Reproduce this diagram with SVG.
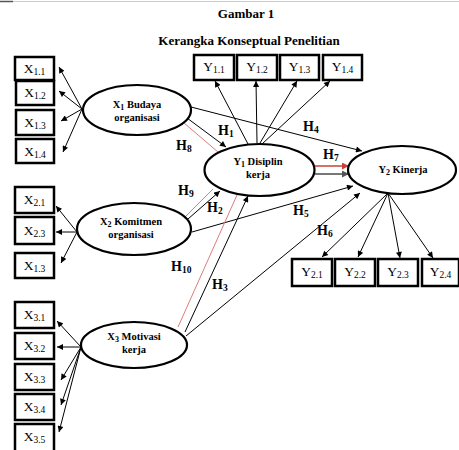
<svg xmlns="http://www.w3.org/2000/svg" width="459" height="450" viewBox="0 0 459 450">
<style>
text{font-family:"Liberation Serif","Times New Roman",serif;fill:#000}
.ttl{font-size:13px;font-weight:bold;text-anchor:middle}
.box rect{fill:#fff;stroke:#000;stroke-width:2.5}
.box text{font-size:13.5px;text-anchor:middle}
.sub{font-size:9.5px}
.ell ellipse{fill:#fff;stroke:#000;stroke-width:2.2}
.ell text{font-size:10.5px;font-weight:bold;text-anchor:middle}
.esub{font-size:8px}
.h{font-size:14px;font-weight:bold}
.hs{font-size:9.5px}
.c line{stroke:#000;stroke-width:1;fill:none}
.c line.a{marker-end:url(#ah)}
.c line.r{stroke:#e07b7b;stroke-width:1}
.c line.ra{stroke:#c9403a;stroke-width:1.6;marker-end:url(#ahr)}
.c line.ga{stroke:#777;stroke-width:2.2;marker-end:url(#ahg)}
</style>
<defs>
<marker id="ah" viewBox="0 0 10 10" refX="10" refY="5" markerWidth="7" markerHeight="6" markerUnits="userSpaceOnUse" orient="auto"><path d="M0,0L10,5L0,10z" fill="#000"/></marker>
<marker id="ahr" viewBox="0 0 10 10" refX="10" refY="5" markerWidth="8" markerHeight="7" markerUnits="userSpaceOnUse" orient="auto"><path d="M0,0L10,5L0,10z" fill="#c9403a"/></marker>
<marker id="ahg" viewBox="0 0 10 10" refX="10" refY="5" markerWidth="8" markerHeight="7" markerUnits="userSpaceOnUse" orient="auto"><path d="M0,0L10,5L0,10z" fill="#555"/></marker>
</defs>
<rect x="0" y="0" width="459" height="450" fill="#fff"/>
<line x1="0" y1="1.5" x2="459" y2="1.5" stroke="#ccc" stroke-width="1"/>
<line x1="0" y1="1.5" x2="13" y2="1.5" stroke="#555" stroke-width="1.5"/>
<text class="ttl" x="246" y="18">Gambar 1</text>
<text class="ttl" x="249" y="45">Kerangka Konseptual Penelitian</text>

<g id="connectors" class="c">
<!-- X1 indicators -->
<line class="a" x1="82" y1="109" x2="59" y2="67"/>
<line class="a" x1="82" y1="109" x2="59" y2="91"/>
<line class="a" x1="82" y1="109" x2="61" y2="121"/>
<line class="a" x1="82" y1="109" x2="63" y2="152"/>
<!-- X2 indicators -->
<line class="a" x1="77" y1="232" x2="56" y2="206"/>
<line class="a" x1="77" y1="232" x2="56" y2="232"/>
<line class="a" x1="77" y1="232" x2="61" y2="263"/>
<!-- X3 indicators -->
<line class="a" x1="81" y1="347" x2="57" y2="321"/>
<line class="a" x1="81" y1="347" x2="57" y2="347"/>
<line class="a" x1="81" y1="347" x2="61" y2="380"/>
<line class="a" x1="81" y1="347" x2="61" y2="405"/>
<line class="a" x1="81" y1="347" x2="59" y2="432"/>
<!-- Y1 indicators -->
<line class="a" x1="248" y1="144" x2="215" y2="81"/>
<line class="a" x1="257" y1="143" x2="256" y2="81"/>
<line class="a" x1="260" y1="143" x2="297" y2="81"/>
<line class="a" x1="262" y1="144" x2="330" y2="81"/>
<!-- Y2 indicators -->
<line class="a" x1="388" y1="193" x2="322" y2="257"/>
<line class="a" x1="388" y1="193" x2="358" y2="257"/>
<line class="a" x1="388" y1="193" x2="400" y2="258"/>
<line class="a" x1="388" y1="193" x2="433" y2="258"/>
<!-- structural paths -->
<line class="a" x1="187" y1="118" x2="226" y2="147"/>
<line class="r" x1="184" y1="123" x2="218" y2="152"/>
<line class="a" x1="191" y1="107" x2="362" y2="151"/>
<line class="a" x1="188" y1="219" x2="220" y2="191"/>
<line class="r" x1="185" y1="217" x2="213" y2="189"/>
<line class="a" x1="192" y1="232" x2="353" y2="186"/>
<line class="a" x1="185" y1="332" x2="248" y2="196"/>
<line class="r" x1="178" y1="327" x2="237" y2="195"/>
<line class="a" x1="186" y1="336" x2="360" y2="193"/>
<line class="ra" x1="315" y1="166" x2="349" y2="166"/>
<line class="ga" x1="315" y1="174" x2="349" y2="174"/>
</g>

<g id="X1" class="ell"><ellipse cx="137" cy="110" rx="54" ry="25"/><text x="137" y="108">X<tspan class="esub" dy="2">1</tspan><tspan dy="-2"> Budaya</tspan></text><text x="137" y="121">organisasi</text></g>
<g id="X2" class="ell"><ellipse cx="134" cy="229" rx="57" ry="26"/><text x="131" y="225">X<tspan class="esub" dy="2">2</tspan><tspan dy="-2"> Komitmen</tspan></text><text x="131" y="238">organisasi</text></g>
<g id="X3" class="ell"><ellipse cx="134" cy="345" rx="53" ry="23"/><text x="134" y="340">X<tspan class="esub" dy="2">3</tspan><tspan dy="-2"> Motivasi</tspan></text><text x="134" y="353">kerja</text></g>
<g id="Y1" class="ell"><ellipse cx="259.5" cy="170" rx="55" ry="26"/><text x="258" y="165">Y<tspan class="esub" dy="2">1</tspan><tspan dy="-2"> Disiplin</tspan></text><text x="258" y="178">kerja</text></g>
<g id="Y2" class="ell"><ellipse cx="402" cy="170" rx="54" ry="24"/><text x="403" y="173">Y<tspan class="esub" dy="2">2</tspan><tspan dy="-2"> Kinerja</tspan></text></g>

<g id="X1_1" class="box"><rect x="15" y="57" width="39" height="23"/><text x="34.5" y="73">X<tspan class="sub" dy="2">1.1</tspan></text></g>
<g id="X1_2" class="box"><rect x="16" y="81" width="38" height="24"/><text x="35" y="97">X<tspan class="sub" dy="2">1.2</tspan></text></g>
<g id="X1_3" class="box"><rect x="16" y="110" width="38" height="25"/><text x="35" y="127">X<tspan class="sub" dy="2">1.3</tspan></text></g>
<g id="X1_4" class="box"><rect x="16" y="139" width="38" height="24"/><text x="35" y="156">X<tspan class="sub" dy="2">1.4</tspan></text></g>

<g id="X2_1" class="box"><rect x="15" y="187" width="39" height="26"/><text x="34.5" y="204">X<tspan class="sub" dy="2">2.1</tspan></text></g>
<g id="X2_3" class="box"><rect x="15" y="217" width="39" height="27"/><text x="34.5" y="235">X<tspan class="sub" dy="2">2.3</tspan></text></g>
<g id="X1_3b" class="box"><rect x="15" y="253" width="39" height="25"/><text x="34.5" y="270">X<tspan class="sub" dy="2">1.3</tspan></text></g>

<g id="X3_1" class="box"><rect x="15" y="302" width="39" height="26"/><text x="34.5" y="319">X<tspan class="sub" dy="2">3.1</tspan></text></g>
<g id="X3_2" class="box"><rect x="15" y="333" width="39" height="26"/><text x="34.5" y="350">X<tspan class="sub" dy="2">3.2</tspan></text></g>
<g id="X3_3" class="box"><rect x="15" y="364" width="39" height="26"/><text x="34.5" y="381">X<tspan class="sub" dy="2">3.3</tspan></text></g>
<g id="X3_4" class="box"><rect x="15" y="394" width="39" height="26"/><text x="34.5" y="411">X<tspan class="sub" dy="2">3.4</tspan></text></g>
<g id="X3_5" class="box"><rect x="15" y="424" width="39" height="30"/><text x="34.5" y="441">X<tspan class="sub" dy="2">3.5</tspan></text></g>

<g id="Y1_1" class="box"><rect x="194" y="55" width="40" height="25"/><text x="214" y="71">Y<tspan class="sub" dy="2">1.1</tspan></text></g>
<g id="Y1_2" class="box"><rect x="237" y="55" width="40" height="25"/><text x="257" y="71">Y<tspan class="sub" dy="2">1.2</tspan></text></g>
<g id="Y1_3" class="box"><rect x="280" y="55" width="39" height="25"/><text x="299.5" y="71">Y<tspan class="sub" dy="2">1.3</tspan></text></g>
<g id="Y1_4" class="box"><rect x="323" y="55" width="39" height="25"/><text x="342.5" y="71">Y<tspan class="sub" dy="2">1.4</tspan></text></g>

<g id="Y2_1" class="box"><rect x="292" y="259" width="40" height="27"/><text x="312" y="276">Y<tspan class="sub" dy="2">2.1</tspan></text></g>
<g id="Y2_2" class="box"><rect x="335" y="259" width="40" height="27"/><text x="355" y="276">Y<tspan class="sub" dy="2">2.2</tspan></text></g>
<g id="Y2_3" class="box"><rect x="378" y="259" width="40" height="27"/><text x="398" y="276">Y<tspan class="sub" dy="2">2.3</tspan></text></g>
<g id="Y2_4" class="box"><rect x="422" y="259" width="37" height="27"/><text x="440.5" y="276">Y<tspan class="sub" dy="2">2.4</tspan></text></g>

<g id="labels">
<text class="h" x="218" y="135">H<tspan class="hs" dy="2">1</tspan></text>
<text class="h" x="303" y="131">H<tspan class="hs" dy="2">4</tspan></text>
<text class="h" x="176" y="150">H<tspan class="hs" dy="2">8</tspan></text>
<text class="h" x="323" y="159">H<tspan class="hs" dy="2">7</tspan></text>
<text class="h" x="178" y="195">H<tspan class="hs" dy="2">9</tspan></text>
<text class="h" x="207" y="212">H<tspan class="hs" dy="2">2</tspan></text>
<text class="h" x="293" y="215">H<tspan class="hs" dy="2">5</tspan></text>
<text class="h" x="317" y="235">H<tspan class="hs" dy="2">6</tspan></text>
<text class="h" x="171" y="271">H<tspan class="hs" dy="2">10</tspan></text>
<text class="h" x="212" y="289">H<tspan class="hs" dy="2">3</tspan></text>
</g>
</svg>
